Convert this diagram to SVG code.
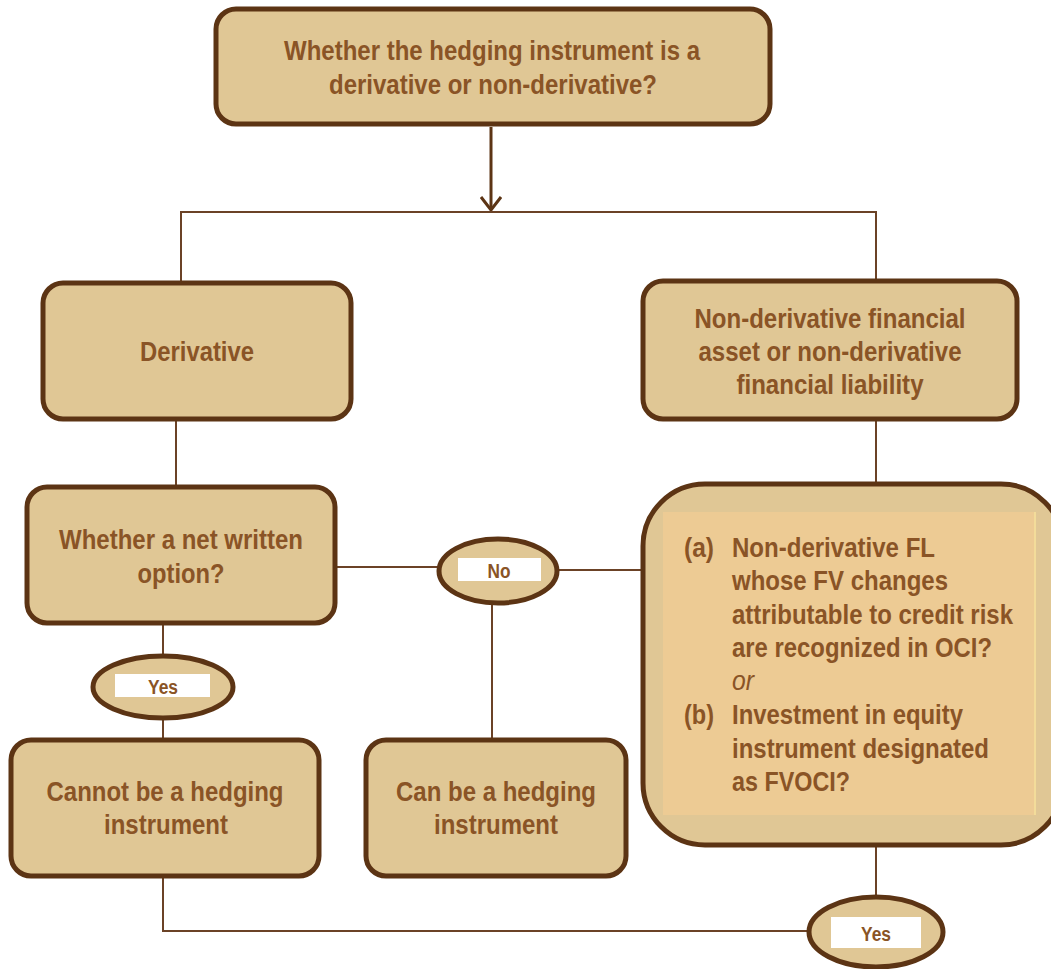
<svg xmlns="http://www.w3.org/2000/svg" width="1051" height="969" viewBox="0 0 1051 969">
  <style>
    .box { fill: #E0C795; stroke: #5C3414; stroke-width: 5; }
    .oval { fill: #E0C795; stroke: #5C3414; stroke-width: 5; }
    .tag { fill: #FFFFFF; }
    .wire { fill: none; stroke: #6B4226; stroke-width: 2; }
    .t { font-family: "Liberation Sans Narrow", "Liberation Sans", "Arial Narrow", sans-serif; font-weight: bold; font-size: 27px; fill: #8A5426; text-anchor: middle; }
    .tl { text-anchor: start; }
    .small { font-size: 20px; }
    .it { font-weight: normal; font-style: italic; }
  </style>
  <defs>
    <marker id="chev" viewBox="0 0 16 22" refX="14" refY="11" markerWidth="16" markerHeight="22" markerUnits="userSpaceOnUse" orient="auto">
      <path d="M1,1 L14,11 L1,21" fill="none" stroke="#5C3414" stroke-width="3"/>
    </marker>
  </defs>

  <!-- connectors -->
  <g id="connectors">
    <line x1="491" y1="127" x2="491" y2="210" stroke="#5C3414" stroke-width="3" marker-end="url(#chev)"/>
    <polyline class="wire" points="181,282 181,212 876,212 876,280"/>
    <line class="wire" x1="176" y1="419" x2="176" y2="487"/>
    <line class="wire" x1="876" y1="419" x2="876" y2="484"/>
    <line class="wire" x1="335" y1="567" x2="439" y2="567"/>
    <line class="wire" x1="559" y1="570" x2="643" y2="570"/>
    <line class="wire" x1="492" y1="603" x2="492" y2="740"/>
    <line class="wire" x1="163" y1="623" x2="163" y2="655"/>
    <line class="wire" x1="163" y1="719" x2="163" y2="740"/>
    <polyline class="wire" points="163,878 163,931 809,931"/>
    <line class="wire" x1="876" y1="845" x2="876" y2="897"/>
  </g>

  <g id="q-instrument">
    <rect class="box" x="216" y="9" width="554" height="115" rx="20"/>
    <text class="t" x="492" y="60" textLength="416" lengthAdjust="spacingAndGlyphs">Whether the hedging instrument is a</text>
    <text class="t" x="493" y="94" textLength="328" lengthAdjust="spacingAndGlyphs">derivative or non-derivative?</text>
  </g>

  <g id="derivative">
    <rect class="box" x="43" y="283" width="308" height="136" rx="20"/>
    <text class="t" x="197" y="361" textLength="114" lengthAdjust="spacingAndGlyphs">Derivative</text>
  </g>

  <g id="non-derivative">
    <rect class="box" x="643" y="281" width="374" height="138" rx="20"/>
    <text class="t" x="830" y="328" textLength="271" lengthAdjust="spacingAndGlyphs">Non-derivative financial</text>
    <text class="t" x="830" y="361" textLength="263" lengthAdjust="spacingAndGlyphs">asset or non-derivative</text>
    <text class="t" x="830" y="394" textLength="187" lengthAdjust="spacingAndGlyphs">financial liability</text>
  </g>

  <g id="q-net-written">
    <rect class="box" x="27" y="487" width="308" height="136" rx="20"/>
    <text class="t" x="181" y="549" textLength="244" lengthAdjust="spacingAndGlyphs">Whether a net written</text>
    <text class="t" x="181" y="583" textLength="87" lengthAdjust="spacingAndGlyphs">option?</text>
  </g>

  <g id="no-label">
    <ellipse class="oval" cx="498" cy="571" rx="59" ry="32"/>
    <rect class="tag" x="458" y="558" width="83" height="23"/>
    <text class="t small" x="499" y="578" textLength="23" lengthAdjust="spacingAndGlyphs">No</text>
  </g>

  <g id="q-credit-equity">
    <rect class="box" x="643" y="484" width="420" height="361" rx="62"/>
    <rect x="663" y="512" width="372" height="303" fill="#EDCB94"/>
    <line x1="1035" y1="512" x2="1035" y2="815" stroke="#F3DC9A" stroke-width="2"/>
    <text class="t tl" x="684" y="557" textLength="30" lengthAdjust="spacingAndGlyphs">(a)</text>
    <text class="t tl" x="732" y="557" textLength="203" lengthAdjust="spacingAndGlyphs">Non-derivative FL</text>
    <text class="t tl" x="732" y="590" textLength="216" lengthAdjust="spacingAndGlyphs">whose FV changes</text>
    <text class="t tl" x="732" y="624" textLength="281" lengthAdjust="spacingAndGlyphs">attributable to credit risk</text>
    <text class="t tl" x="732" y="657" textLength="260" lengthAdjust="spacingAndGlyphs">are recognized in OCI?</text>
    <text class="t tl it" x="732" y="690" textLength="22" lengthAdjust="spacingAndGlyphs">or</text>
    <text class="t tl" x="684" y="724" textLength="30" lengthAdjust="spacingAndGlyphs">(b)</text>
    <text class="t tl" x="732" y="724" textLength="231" lengthAdjust="spacingAndGlyphs">Investment in equity</text>
    <text class="t tl" x="732" y="758" textLength="257" lengthAdjust="spacingAndGlyphs">instrument designated</text>
    <text class="t tl" x="732" y="791" textLength="118" lengthAdjust="spacingAndGlyphs">as FVOCI?</text>
  </g>

  <g id="yes-left">
    <ellipse class="oval" cx="163" cy="687" rx="70" ry="31"/>
    <rect class="tag" x="115" y="674" width="95" height="23"/>
    <text class="t small" x="163" y="694" textLength="30" lengthAdjust="spacingAndGlyphs">Yes</text>
  </g>

  <g id="cannot-hedge">
    <rect class="box" x="11" y="740" width="308" height="136" rx="20"/>
    <text class="t" x="165" y="801" textLength="237" lengthAdjust="spacingAndGlyphs">Cannot be a hedging</text>
    <text class="t" x="166" y="834" textLength="124" lengthAdjust="spacingAndGlyphs">instrument</text>
  </g>

  <g id="can-hedge">
    <rect class="box" x="366" y="740" width="260" height="136" rx="20"/>
    <text class="t" x="496" y="801" textLength="200" lengthAdjust="spacingAndGlyphs">Can be a hedging</text>
    <text class="t" x="496" y="834" textLength="124" lengthAdjust="spacingAndGlyphs">instrument</text>
  </g>

  <g id="yes-bottom">
    <ellipse class="oval" cx="876" cy="932" rx="67" ry="35"/>
    <rect class="tag" x="831" y="917" width="90" height="31"/>
    <text class="t small" x="876" y="941" textLength="30" lengthAdjust="spacingAndGlyphs">Yes</text>
  </g>
</svg>
